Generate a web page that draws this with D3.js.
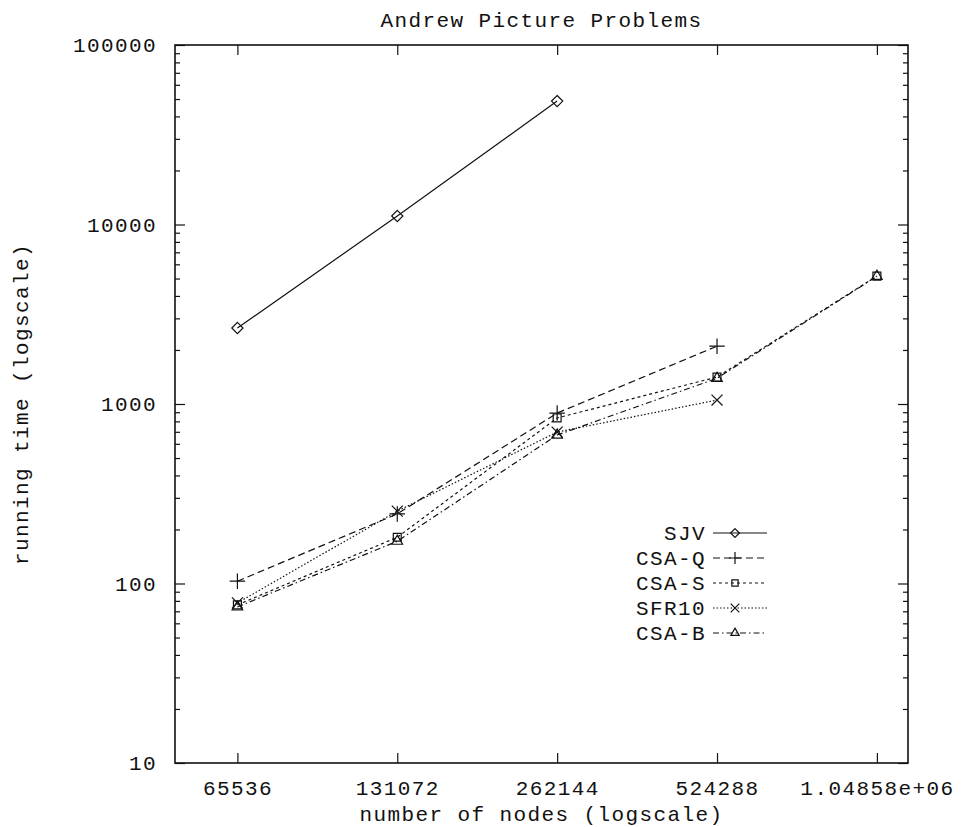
<!DOCTYPE html>
<html>
<head>
<meta charset="utf-8">
<script src="https://cdn.jsdelivr.net/npm/d3@7"></script>
<style>
body { margin: 0; background: #fff; }
text { font-family: "Liberation Mono", "DejaVu Sans Mono", monospace; fill: #111; }
</style>
</head>
<body>
<svg id="chart" width="962" height="827"></svg>
<script>
// data
var nodes = [65536, 131072, 262144, 524288, 1048576];
var nodeLabels = ["65536", "131072", "262144", "524288", "1.04858e+06"];
var yTicks = [10, 100, 1000, 10000, 100000];

var seriesNames = ["SJV", "CSA-Q", "CSA-S", "SFR10", "CSA-B"];
var sjv   = [2650, 11150, 48700];
var csaQ  = [103, 244, 890, 2100];
var csaS  = [76, 181, 836, 1413, 5160];
var sfr10 = [78, 253, 698, 1052];
var csaB  = [74, 172, 672, 1390, 5150];

var xDomain = [50000, 1200000];
var yDomain = [10, 100000];

var series = [
  {name: seriesNames[0], values: sjv,   dash: null,          symbol: d3.symbolDiamond2},
  {name: seriesNames[1], values: csaQ,  dash: "7,4",         symbol: d3.symbolPlus},
  {name: seriesNames[2], values: csaS,  dash: "3,3",         symbol: d3.symbolSquare2},
  {name: seriesNames[3], values: sfr10, dash: "1.5,2",       symbol: d3.symbolTimes},
  {name: seriesNames[4], values: csaB,  dash: "6,3,1.5,3",   symbol: d3.symbolTriangle2}
];

var plotLeft = 175, plotRight = 908, plotTop = 45, plotBottom = 763;
var svg = d3.select("#chart");

var x = d3.scaleLog().base(2).domain(xDomain).range([plotLeft, plotRight]);
var y = d3.scaleLog().domain(yDomain).range([plotBottom, plotTop]);

var fontSize = "21px", spacing = "1.4px";

// minor y ticks
var minor = [];
yTicks.slice(0, -1).forEach(function(d) {
  for (var k = 2; k < 10; k++) minor.push(d * k);
});

function styleAxis(g) {
  g.select(".domain").remove();
  g.selectAll(".tick line").attr("stroke", "#111").attr("stroke-width", 1.2);
  g.selectAll("text").style("font-size", fontSize).style("letter-spacing", spacing).attr("fill", "#111");
}

svg.append("g").attr("transform", "translate(0," + plotBottom + ")")
  .call(d3.axisBottom(x).tickValues(nodes).tickSize(-10).tickPadding(17)
    .tickFormat(function(d, i) { return nodeLabels[i]; }))
  .call(styleAxis);

svg.append("g").attr("transform", "translate(0," + plotTop + ")")
  .call(d3.axisTop(x).tickValues(nodes).tickSize(-10).tickFormat(""))
  .call(styleAxis);

svg.append("g").attr("transform", "translate(" + plotLeft + ",0)")
  .call(d3.axisLeft(y).tickValues(yTicks).tickSize(-10).tickPadding(18)
    .tickFormat(d3.format("d")))
  .call(styleAxis);

svg.append("g").attr("transform", "translate(" + plotLeft + ",0)")
  .call(d3.axisLeft(y).tickValues(minor).tickSize(-5).tickFormat(""))
  .call(styleAxis);

svg.append("g").attr("transform", "translate(" + plotRight + ",0)")
  .call(d3.axisRight(y).tickValues(yTicks).tickSize(-10).tickFormat(""))
  .call(styleAxis);

svg.append("g").attr("transform", "translate(" + plotRight + ",0)")
  .call(d3.axisRight(y).tickValues(minor).tickSize(-5).tickFormat(""))
  .call(styleAxis);

// frame
svg.append("rect")
  .attr("x", plotLeft).attr("y", plotTop)
  .attr("width", plotRight - plotLeft).attr("height", plotBottom - plotTop)
  .attr("fill", "none").attr("stroke", "#111").attr("stroke-width", 1.6);

// title and axis labels
svg.append("text").attr("x", (plotLeft + plotRight) / 2).attr("y", 27)
  .attr("text-anchor", "middle").style("font-size", fontSize).style("letter-spacing", spacing)
  .text("Andrew Picture Problems");

svg.append("text").attr("x", (plotLeft + plotRight) / 2).attr("y", 821)
  .attr("text-anchor", "middle").style("font-size", fontSize).style("letter-spacing", spacing)
  .text("number of nodes (logscale)");

svg.append("text")
  .attr("transform", "translate(28," + (plotTop + plotBottom) / 2 + ") rotate(-90)")
  .attr("text-anchor", "middle").style("font-size", fontSize).style("letter-spacing", spacing)
  .text("running time (logscale)");

// lines and markers
var line = d3.line()
  .x(function(d, i) { return x(nodes[i]); })
  .y(function(d) { return y(d); });

series.forEach(function(s) {
  svg.append("path")
    .datum(s.values)
    .attr("d", line)
    .attr("fill", "none")
    .attr("stroke", "#111")
    .attr("stroke-width", 1.2)
    .attr("stroke-dasharray", s.dash);

  svg.selectAll(null)
    .data(s.values)
    .enter().append("path")
    .attr("transform", function(d, i) { return "translate(" + x(nodes[i]) + "," + y(d) + ")"; })
    .attr("d", d3.symbol().type(s.symbol).size(80))
    .attr("fill", "none")
    .attr("stroke", "#111")
    .attr("stroke-width", 1.2);
});

// legend
var legend = svg.append("g");
var row = legend.selectAll("g").data(series).enter().append("g")
  .attr("transform", function(d, i) { return "translate(0," + (533 + i * 25) + ")"; });

row.append("text")
  .attr("x", 706).attr("dy", "0.35em")
  .attr("text-anchor", "end").style("font-size", fontSize).style("letter-spacing", spacing)
  .text(function(d) { return d.name; });

row.append("line")
  .attr("x1", 713).attr("x2", 767)
  .attr("stroke", "#111").attr("stroke-width", 1.2)
  .attr("stroke-dasharray", function(d) { return d.dash; });

row.append("path")
  .attr("transform", "translate(735,0)")
  .attr("d", function(d) { return d3.symbol().type(d.symbol).size(50)(); })
  .attr("fill", "none").attr("stroke", "#111").attr("stroke-width", 1.2);
</script>
</body>
</html>
